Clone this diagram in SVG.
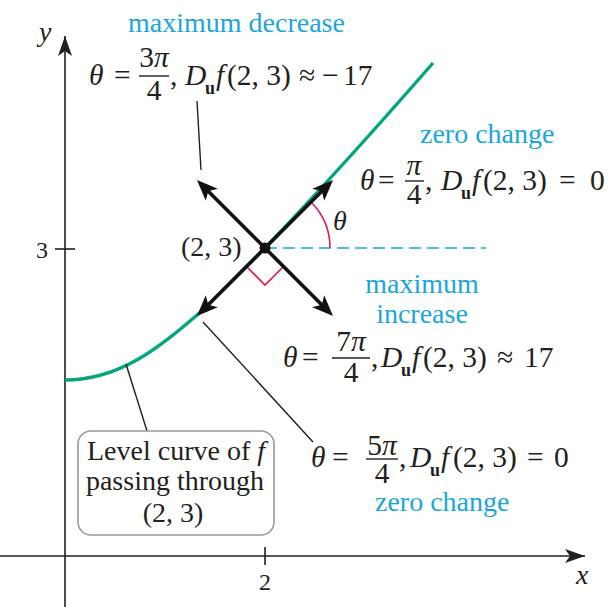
<svg xmlns="http://www.w3.org/2000/svg" width="613" height="607" viewBox="0 0 613 607">
<defs>
<style>
text{font-family:"Liberation Serif","Times New Roman",serif;fill:#231f20;font-size:28px}
.fm{font-size:29.5px}
.lbl{fill:#1aa6dd}
.it{font-style:italic}
.b{font-weight:bold;font-size:18px}
.axis{stroke:#231f20;stroke-width:1.6;fill:none}
.vec{stroke:#111;stroke-width:3.6;fill:none;marker-end:url(#vh)}
.lead{stroke:#231f20;stroke-width:1.4;fill:none}
.bar{stroke:#231f20;stroke-width:1.4}
.red{stroke:#e3174a;stroke-width:1.6;fill:none}
</style>
<marker id="vh" markerUnits="userSpaceOnUse" viewBox="-12 -10 24 20" markerWidth="24" markerHeight="20" refX="0" refY="0" orient="auto">
<path d="M10,0 L-11,-8.5 L-6,0 L-11,8.5 Z" fill="#111"/>
</marker>
<marker id="ah" markerUnits="userSpaceOnUse" viewBox="-22 -9 24 18" markerWidth="24" markerHeight="18" refX="0" refY="0" orient="auto">
<path d="M0,0 L-20,-7 L-15,0 L-20,7 Z" fill="#231f20"/>
</marker>
</defs>

<g id="axes">
<line class="axis" x1="65" y1="607" x2="65" y2="36" marker-end="url(#ah)"/>
<line class="axis" x1="0" y1="556" x2="585" y2="556" marker-end="url(#ah)"/>
<line class="axis" x1="55" y1="249" x2="75" y2="249"/>
<line class="axis" x1="265" y1="547" x2="265" y2="565"/>
<text class="it" x="39" y="41">y</text>
<text class="it" x="576" y="584">x</text>
<text x="36" y="258" style="font-size:24px">3</text>
<text x="265" y="590" text-anchor="middle" style="font-size:24px">2</text>
</g>

<g id="level-curve">
<path d="M65,380 C118,380 158,350 205,308 L265,248 C330,180 385,118 433,63" stroke="#00a67e" stroke-width="3.4" fill="none"/>
</g>

<g id="reference-line">
<line x1="265" y1="248" x2="486" y2="248" stroke="#1aa6dd" stroke-width="1.6" stroke-dasharray="12 6"/>
<path class="red" d="M311,202 A65,65 0 0 1 330,248"/>
<text class="it" x="333" y="230">θ</text>
<path class="red" d="M247,267 L265,285 L283,267"/>
</g>

<g id="connectors">
<line class="vec" x1="265" y1="248" x2="326" y2="187"/>
<line class="vec" x1="265" y1="248" x2="204" y2="187"/>
<line class="vec" x1="265" y1="248" x2="204" y2="309"/>
<line class="vec" x1="265" y1="248" x2="326" y2="309"/>
<line class="lead" x1="197" y1="101" x2="201" y2="170"/>
<line class="lead" x1="203" y1="322" x2="313" y2="442"/>
<line class="lead" x1="126" y1="364" x2="147" y2="431"/>
</g>

<g id="point">
<circle cx="265" cy="248" r="5.5" fill="#111"/>
<text x="181" y="256">(2, 3)</text>
</g>

<g id="max-decrease">
<text class="lbl" x="128" y="32">maximum decrease</text>
<text class="fm"><tspan class="it" x="89" y="85">θ</tspan><tspan x="114" y="85">=</tspan><tspan x="154" y="67" text-anchor="middle">3<tspan class="it">π</tspan></tspan><tspan x="154" y="100" text-anchor="middle">4</tspan><tspan x="170" y="85">,</tspan><tspan class="it" x="185" y="85">D</tspan><tspan class="b" x="205" y="94">u</tspan><tspan class="it" x="216" y="85">f</tspan><tspan x="227" y="85">(2, 3)</tspan><tspan x="299" y="85">≈</tspan><tspan x="322" y="85">−</tspan><tspan x="343" y="85">17</tspan></text>
<line class="bar" x1="139" y1="76" x2="169" y2="76"/>
</g>

<g id="zero-change-top">
<text class="lbl" x="420" y="143">zero change</text>
<text class="fm"><tspan class="it" x="360" y="190">θ</tspan><tspan x="378" y="190">=</tspan><tspan class="it" x="414" y="175" text-anchor="middle">π</tspan><tspan x="414" y="204" text-anchor="middle">4</tspan><tspan x="425" y="190">,</tspan><tspan class="it" x="441" y="190">D</tspan><tspan class="b" x="461" y="199">u</tspan><tspan class="it" x="472" y="190">f</tspan><tspan x="483" y="190">(2, 3)</tspan><tspan x="559" y="190">=</tspan><tspan x="590" y="190">0</tspan></text>
<line class="bar" x1="405" y1="181" x2="424" y2="181"/>
</g>

<g id="max-increase">
<text class="lbl" x="422" y="293" text-anchor="middle">maximum</text>
<text class="lbl" x="422" y="323" text-anchor="middle">increase</text>
<text class="fm"><tspan class="it" x="283" y="367">θ</tspan><tspan x="302" y="367">=</tspan><tspan x="351" y="351" text-anchor="middle">7<tspan class="it">π</tspan></tspan><tspan x="351" y="382" text-anchor="middle">4</tspan><tspan x="371" y="367">,</tspan><tspan class="it" x="381" y="367">D</tspan><tspan class="b" x="401" y="376">u</tspan><tspan class="it" x="412" y="367">f</tspan><tspan x="423" y="367">(2, 3)</tspan><tspan x="497" y="367">≈</tspan><tspan x="524" y="367">17</tspan></text>
<line class="bar" x1="332" y1="358" x2="370" y2="358"/>
</g>

<g id="zero-change-bottom">
<text class="fm"><tspan class="it" x="311" y="467">θ</tspan><tspan x="332" y="467">=</tspan><tspan x="382" y="455" text-anchor="middle">5<tspan class="it">π</tspan></tspan><tspan x="382" y="483" text-anchor="middle">4</tspan><tspan x="399" y="467">,</tspan><tspan class="it" x="410" y="467">D</tspan><tspan class="b" x="430" y="476">u</tspan><tspan class="it" x="441" y="467">f</tspan><tspan x="453" y="467">(2, 3)</tspan><tspan x="527" y="467">=</tspan><tspan x="554" y="467">0</tspan></text>
<line class="bar" x1="366" y1="459" x2="398" y2="459"/>
<text class="lbl" x="375" y="511">zero change</text>
</g>

<g id="level-curve-label">
<rect x="78" y="431" width="196" height="104" rx="13" ry="13" fill="#fff" stroke="#9a9a9a" stroke-width="1.6"/>
<text x="176" y="460" text-anchor="middle">Level curve of <tspan class="it">f</tspan></text>
<text x="175" y="490" text-anchor="middle">passing through</text>
<text x="173" y="522" text-anchor="middle">(2, 3)</text>
</g>
</svg>
